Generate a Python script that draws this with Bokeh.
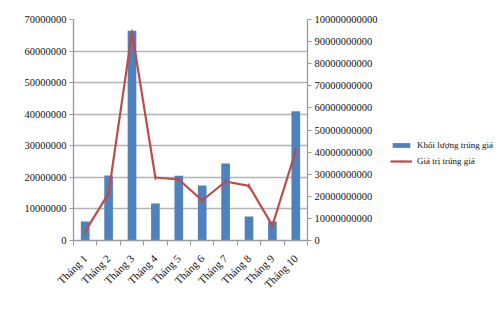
from math import pi
from bokeh.plotting import figure
from bokeh.layouts import row
from bokeh.models import (Range1d, LinearAxis, FixedTicker, BasicTickFormatter,
                          Legend, LegendItem, ColumnDataSource)
from bokeh.embed import file_html
from bokeh.resources import INLINE

categories = ["Tháng 1", "Tháng 2", "Tháng 3", "Tháng 4", "Tháng 5",
              "Tháng 6", "Tháng 7", "Tháng 8", "Tháng 9", "Tháng 10"]
khoi_luong = [6000000, 20600000, 66400000, 11700000, 20500000,
              17400000, 24400000, 7600000, 6000000, 40900000]
gia_tri = [4100000000, 21300000000, 94300000000, 28500000000, 27600000000,
           18100000000, 26700000000, 24700000000, 6800000000, 40700000000]
left_ticks = [0, 10000000, 20000000, 30000000, 40000000, 50000000, 60000000, 70000000]
right_ticks = [0, 10000000000, 20000000000, 30000000000, 40000000000, 50000000000,
               60000000000, 70000000000, 80000000000, 90000000000, 100000000000]
series_names = ["Khối lượng trúng giá", "Giá trị trúng giá"]

xs = list(range(1, len(categories) + 1))
src = ColumnDataSource(dict(x=xs, kl=khoi_luong, gt=gia_tri))

FONT = "Liberation Serif"
BLUE = "#4f81bd"
RED = "#be4b48"
TXT = "#111111"
AX = "#9a9a9a"

p = figure(width=380, height=312, output_backend="svg", toolbar_location=None,
           x_range=Range1d(0.5, len(categories) + 0.5),
           y_range=Range1d(left_ticks[0], left_ticks[-1]),
           min_border_left=73, min_border_right=71, min_border_top=19,
           min_border_bottom=72, x_axis_location=None, y_axis_location=None)
p.outline_line_color = None
p.xgrid.visible = False
p.ygrid.grid_line_color = "#b4b4b4"
p.ygrid.grid_line_width = 1.3
p.ygrid.ticker = FixedTicker(ticks=left_ticks)
p.extra_y_ranges = {"val": Range1d(right_ticks[0], right_ticks[-1])}

yl = LinearAxis(ticker=FixedTicker(ticks=left_ticks),
                formatter=BasicTickFormatter(use_scientific=False))
yr = LinearAxis(y_range_name="val", ticker=FixedTicker(ticks=right_ticks),
                formatter=BasicTickFormatter(use_scientific=False))
xb = LinearAxis(ticker=FixedTicker(ticks=xs, minor_ticks=[x - 0.5 for x in xs] + [xs[-1] + 0.5]),
                major_label_overrides={x: c for x, c in zip(xs, categories)})
xb.major_label_orientation = pi / 4
xb.major_tick_line_color = None
xb.minor_tick_in = 0
xb.minor_tick_out = 5
xb.minor_tick_line_color = AX

for ax in (yl, yr, xb):
    ax.axis_line_color = AX
    ax.axis_line_width = 1.3
    ax.major_label_text_font = FONT
    ax.major_label_text_font_size = "10.5px"
    ax.major_label_text_color = TXT
for ax in (yl, yr):
    ax.major_tick_line_color = AX
    ax.major_tick_in = 0
    ax.major_tick_out = 4
    ax.minor_tick_line_color = None
    ax.major_label_standoff = 3
xb.major_label_text_font_size = "11px"
xb.major_label_standoff = 10

p.add_layout(yl, "left")
p.add_layout(yr, "right")
p.add_layout(xb, "below")

p.vbar(x="x", top="kl", width=0.37, source=src, fill_color=BLUE, line_color=None)
p.line(x="x", y="gt", source=src, y_range_name="val", line_color=RED, line_width=2.2)
p.scatter(x="x", y="gt", source=src, y_range_name="val", marker="dash",
          size=5, line_color=RED, line_width=1.5, angle=pi / 2)

# legend panel: same data, drawn outside this panel's visible ranges (legend proxies only)
lg = figure(width=120, height=312, output_backend="svg", toolbar_location=None,
            x_range=Range1d(-2, -1), y_range=Range1d(-2, -1),
            min_border=0, x_axis_location=None, y_axis_location=None)
lg.outline_line_color = None
lg.grid.visible = False
lb = lg.vbar(x="x", top="kl", width=0.37, source=src, fill_color=BLUE, line_color=None)
ll = lg.line(x="x", y="gt", source=src, line_color=RED, line_width=2.2)
ls = lg.scatter(x="x", y="gt", source=src, marker="dash", size=5,
                line_color=RED, line_width=1.5, angle=pi / 2)
legend = Legend(items=[LegendItem(label=series_names[0], renderers=[lb]),
                       LegendItem(label=series_names[1], renderers=[ll, ls])],
                location=(10, 74), orientation="vertical",
                background_fill_alpha=0, border_line_color=None,
                label_text_font=FONT, label_text_font_size="9px", label_text_color=TXT,
                glyph_width=22, glyph_height=6, label_height=10, spacing=6,
                padding=0, margin=0, label_standoff=5)
lg.add_layout(legend, "center")

open("out.html", "w").write(file_html(row(p, lg), INLINE))
